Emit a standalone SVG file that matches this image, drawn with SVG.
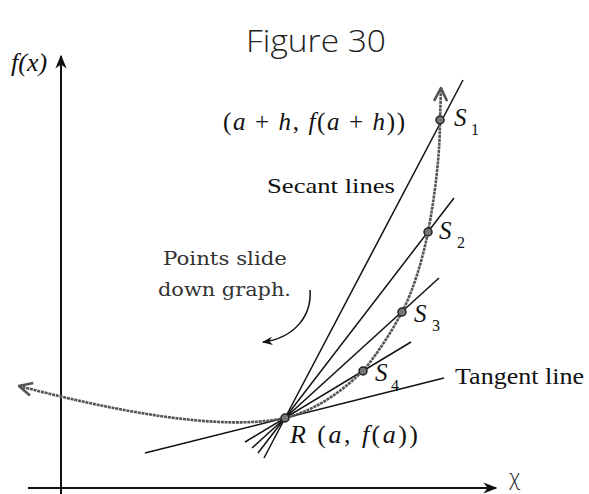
<svg xmlns="http://www.w3.org/2000/svg" width="589" height="494" viewBox="0 0 589 494">
<defs>
<style>
.ax{stroke:#111;stroke-width:2;fill:none}
.ln{stroke:#111;stroke-width:1.5;fill:none}
.crv{stroke:#555;stroke-width:2.6;fill:none;stroke-dasharray:3 0.8}
.dot{fill:#777;stroke:#222;stroke-width:1.5}
.t{font-family:"Liberation Serif",serif;fill:#111}
.i{font-style:italic}
.g{font-family:"DejaVu Serif","Liberation Serif",serif;fill:#333}
.hw{font-family:"Open Sans","Lato","Liberation Sans",sans-serif;fill:#222;font-weight:300}
</style>
<marker id="ah" viewBox="0 0 10 10" refX="9" refY="5" markerWidth="7" markerHeight="7" orient="auto-start-reverse"><path d="M0,1 L10,5 L0,9 L3,5 Z" fill="#111"/></marker>
<marker id="oh" viewBox="0 0 12 12" refX="11" refY="6" markerWidth="6" markerHeight="6" orient="auto-start-reverse"><path d="M1,1 L11,6 L1,11" fill="none" stroke="#555" stroke-width="2"/></marker>
</defs>
<rect width="589" height="494" fill="#fff"/>
<text class="hw" x="246" y="52" font-size="32" textLength="140" lengthAdjust="spacingAndGlyphs">Figure 30</text>
<g id="axes">
<line class="ax" x1="61" y1="494" x2="61" y2="56" marker-end="url(#ah)"/>
<line class="ax" x1="28" y1="488" x2="496" y2="488" marker-end="url(#ah)"/>
<text class="t i" x="11" y="71" font-size="26">f(x)</text>
<text class="hw" x="509" y="485" font-size="22">χ</text>
</g>
<g id="connectors">
<line class="ln" x1="264" y1="458" x2="463" y2="80"/>
<line class="ln" x1="258" y1="453" x2="454" y2="198"/>
<line class="ln" x1="252" y1="448" x2="439" y2="278"/>
<line class="ln" x1="245" y1="442" x2="411" y2="342"/>
<line class="ln" x1="145" y1="453" x2="444" y2="378"/>
<path class="ln" d="M310,290 C312,315 295,338 263,342" stroke-width="2" marker-end="url(#ah)"/>
</g>
<g id="curve">
<path class="crv" d="M19,386 C110,410 220,432 285,418 C320,409 345,388 363,371 C378,353 392,331 402,312 C413,291 422,262 428,232 C436,190 440,150 440,120 L441,88" marker-start="url(#oh)" marker-end="url(#oh)"/>
</g>
<g id="R"><circle class="dot" cx="285" cy="418" r="4"/>
<text class="t" x="290" y="443" font-size="26" textLength="128" lengthAdjust="spacing"><tspan class="i">R</tspan> (<tspan class="i">a</tspan>, <tspan class="i">f</tspan>(<tspan class="i">a</tspan>))</text></g>
<g id="S1"><circle class="dot" cx="440" cy="120" r="4"/>
<text class="t i" x="454" y="126" font-size="25">S</text><text class="t" x="471" y="135" font-size="16">1</text>
<text class="t" x="223" y="130" font-size="25" textLength="182" lengthAdjust="spacing">(<tspan class="i">a</tspan> + <tspan class="i">h</tspan>, <tspan class="i">f</tspan>(<tspan class="i">a</tspan> + <tspan class="i">h</tspan>))</text></g>
<g id="S2"><circle class="dot" cx="428" cy="232" r="4"/>
<text class="t i" x="439" y="239" font-size="25">S</text><text class="t" x="457" y="248" font-size="16">2</text></g>
<g id="S3"><circle class="dot" cx="402" cy="312" r="4"/>
<text class="t i" x="414" y="322" font-size="25">S</text><text class="t" x="432" y="331" font-size="16">3</text></g>
<g id="S4"><circle class="dot" cx="363" cy="371" r="4"/>
<text class="t i" x="375" y="381" font-size="25">S</text><text class="t" x="391" y="391" font-size="16">4</text></g>
<g id="labels">
<text class="t" x="267" y="193" font-size="22" textLength="128" lengthAdjust="spacingAndGlyphs">Secant lines</text>
<text class="g" x="163" y="265" font-size="19" textLength="124" lengthAdjust="spacingAndGlyphs">Points slide</text>
<text class="g" x="158" y="296" font-size="19" textLength="133" lengthAdjust="spacingAndGlyphs">down graph.</text>
<text class="t" x="455" y="384" font-size="23" textLength="129" lengthAdjust="spacingAndGlyphs">Tangent line</text>
</g>
</svg>
